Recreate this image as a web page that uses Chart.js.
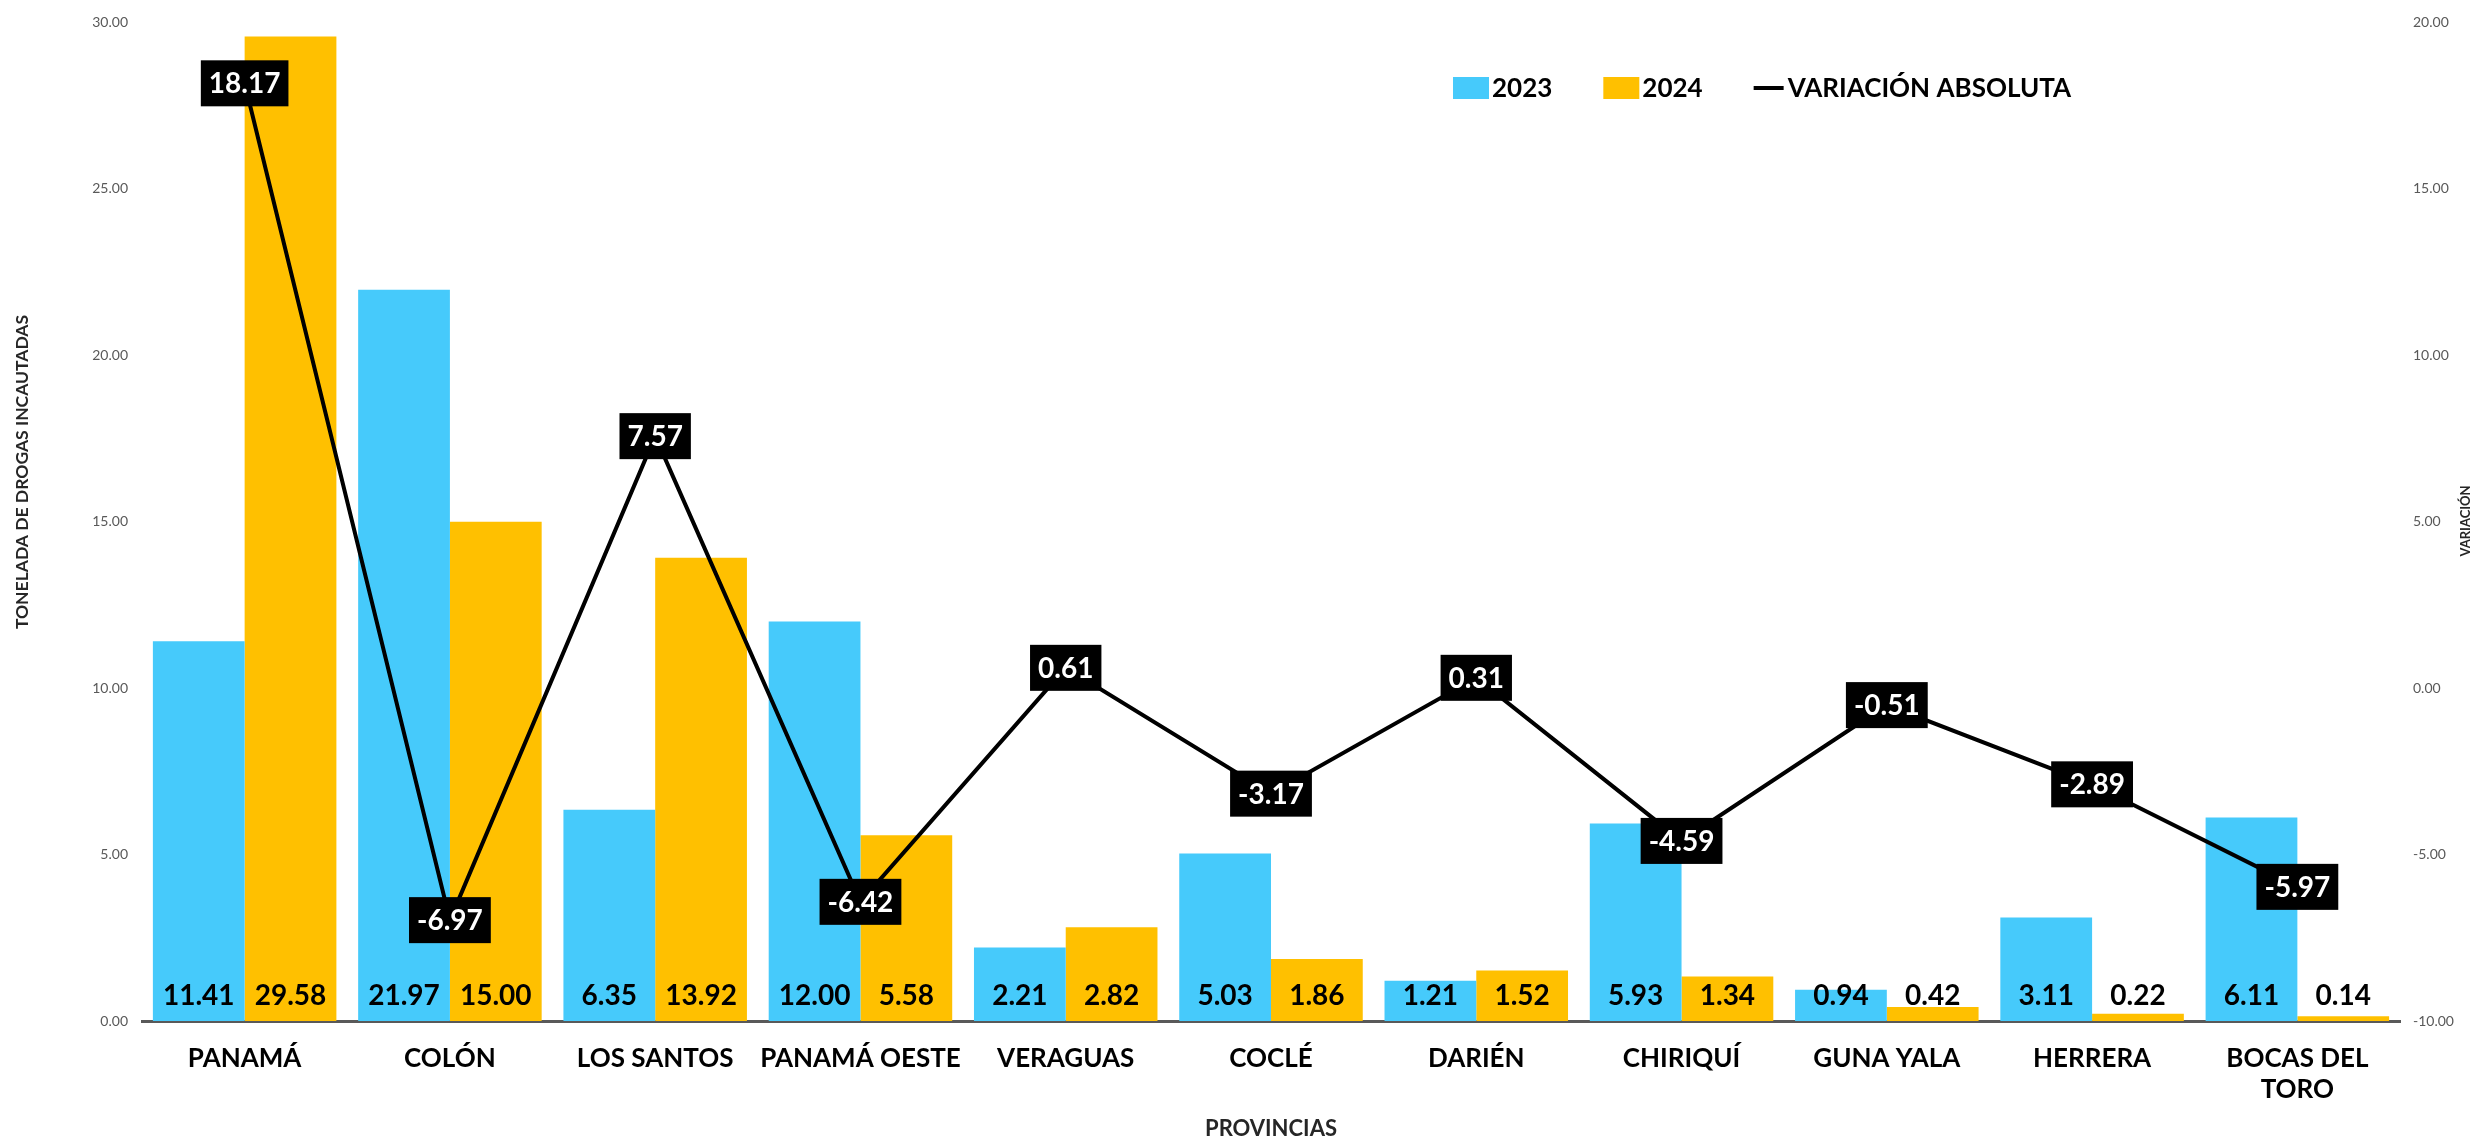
<!DOCTYPE html>
<html>
<head>
<meta charset="utf-8">
<script src="https://cdn.jsdelivr.net/npm/chart.js@4.4.1/dist/chart.umd.min.js"></script>
<style>
  html, body { margin: 0; padding: 0; background: #fff; }
  #wrap { width: 2476px; height: 1142px; position: relative; }
</style>
</head>
<body>
<div id="wrap"><canvas id="grafico"></canvas></div>
<script>
const provincias = ['PANAMÁ', 'COLÓN', 'LOS SANTOS', 'PANAMÁ OESTE', 'VERAGUAS', 'COCLÉ',
  'DARIÉN', 'CHIRIQUÍ', 'GUNA YALA', 'HERRERA', ['BOCAS DEL', 'TORO']]
const valores2023 = [11.41, 21.97, 6.35, 12.00, 2.21, 5.03, 1.21, 5.93, 0.94, 3.11, 6.11]
const valores2024 = [29.58, 15.00, 13.92, 5.58, 2.82, 1.86, 1.52, 1.34, 0.42, 0.22, 0.14]
const variacion = [18.17, -6.97, 7.57, -6.42, 0.61, -3.17, 0.31, -4.59, -0.51, -2.89, -5.97]

const AZUL = '#46CAFB'
const AMARILLO = '#FFC000'
const FUENTE = 'Lato'

// etiquetas de las barras, cajas negras de la linea, leyenda y titulos verticales
const etiquetas = {
  id: 'etiquetas',
  afterDatasetsDraw(chart) {
    const ctx = chart.ctx
    const area = chart.chartArea
    ctx.save()
    ctx.textAlign = 'center'
    ctx.textBaseline = 'middle'
    ctx.font = `bold 28px ${FUENTE}`
    chart.data.datasets.forEach((ds, i) => {
      if (ds.type === 'line') return
      const meta = chart.getDatasetMeta(i)
      meta.data.forEach((el, j) => {
        ctx.fillStyle = '#000'
        ctx.fillText(ds.data[j].toFixed(2), el.x, area.bottom - 25)
      })
    })
    chart.data.datasets.forEach((ds, i) => {
      if (ds.type !== 'line') return
      const meta = chart.getDatasetMeta(i)
      meta.data.forEach((el, j) => {
        const txt = ds.data[j].toFixed(2)
        const w = ctx.measureText(txt).width + 16
        const h = 46
        ctx.fillStyle = '#000'
        ctx.fillRect(el.x - w / 2, el.y - h / 2, w, h)
        ctx.fillStyle = '#fff'
        ctx.fillText(txt, el.x, el.y + 1)
      })
    })
    ctx.restore()
  },
  afterDraw(chart) {
    const ctx = chart.ctx
    ctx.save()
    // leyenda
    ctx.font = `bold 26px ${FUENTE}`
    ctx.textBaseline = 'middle'
    ctx.textAlign = 'left'
    let x = 1453
    const y = 88
    chart.data.datasets.forEach(ds => {
      if (ds.type === 'line') {
        ctx.strokeStyle = '#000'
        ctx.lineWidth = 4
        ctx.beginPath()
        ctx.moveTo(x, y)
        ctx.lineTo(x + 30, y)
        ctx.stroke()
        x += 34
      } else {
        ctx.fillStyle = ds.backgroundColor
        ctx.fillRect(x, y - 11, 36, 22)
        x += 39
      }
      ctx.fillStyle = '#000'
      ctx.fillText(ds.label, x, y + 1)
      x += ctx.measureText(ds.label).width + 51
    })
    ctx.textAlign = 'center'
    ctx.fillStyle = '#262626'
    // titulo del eje izquierdo
    ctx.save()
    ctx.font = `bold 17.5px ${FUENTE}`
    ctx.translate(22, 472)
    ctx.rotate(-Math.PI / 2)
    ctx.fillText('TONELADA DE DROGAS INCAUTADAS', 0, 0)
    ctx.restore()
    // titulo del eje derecho
    ctx.font = `bold 13px ${FUENTE}`
    ctx.translate(2466, 521)
    ctx.rotate(-Math.PI / 2)
    ctx.fillText('VARIACIÓN', 0, 0)
    ctx.restore()
  }
}

const ctx = document.getElementById('grafico').getContext('2d')
new Chart(ctx, {
  type: 'bar',
  data: {
    labels: provincias,
    datasets: [
      {
        label: '2023',
        data: valores2023,
        backgroundColor: AZUL,
        yAxisID: 'y',
        order: 1
      },
      {
        label: '2024',
        data: valores2024,
        backgroundColor: AMARILLO,
        yAxisID: 'y',
        order: 1
      },
      {
        type: 'line',
        label: 'VARIACIÓN ABSOLUTA',
        data: variacion,
        yAxisID: 'y1',
        borderColor: '#000',
        borderWidth: 4,
        pointRadius: 0,
        tension: 0,
        order: 0
      }
    ]
  },
  options: {
    responsive: true,
    maintainAspectRatio: false,
    animation: false,
    datasets: {
      bar: { barPercentage: 1, categoryPercentage: 0.894 }
    },
    layout: { padding: { top: 19, left: 0, right: 0, bottom: 0 } },
    plugins: {
      legend: { display: false },
      tooltip: { enabled: false }
    },
    scales: {
      x: {
        grid: { display: false, drawTicks: false },
        border: { display: true, color: '#595959', width: 3 },
        ticks: {
          color: '#000',
          font: { family: FUENTE, size: 26, weight: 'bold' },
          padding: 22,
          maxRotation: 0,
          autoSkip: false
        },
        title: {
          display: true,
          text: 'PROVINCIAS',
          color: '#262626',
          font: { family: FUENTE, size: 22, weight: 'bold' },
          padding: { top: 0, bottom: 0 }
        },
        afterFit(scale) { scale.height = 121 }
      },
      y: {
        position: 'left',
        min: 0,
        max: 30,
        grid: { display: false, drawTicks: false },
        border: { display: false },
        ticks: {
          stepSize: 5,
          color: '#595959',
          padding: 14,
          font: { family: FUENTE, size: 14 },
          callback: v => v.toFixed(2)
        },
        afterFit(scale) { scale.width = 142 }
      },
      y1: {
        position: 'right',
        min: -10,
        max: 20,
        grid: { display: false, drawTicks: false },
        border: { display: false },
        ticks: {
          stepSize: 5,
          color: '#595959',
          padding: 13,
          font: { family: FUENTE, size: 14 },
          callback: v => v.toFixed(2)
        },
        afterFit(scale) { scale.width = 76 }
      }
    }
  },
  plugins: [etiquetas]
})
</script>
</body>
</html>
